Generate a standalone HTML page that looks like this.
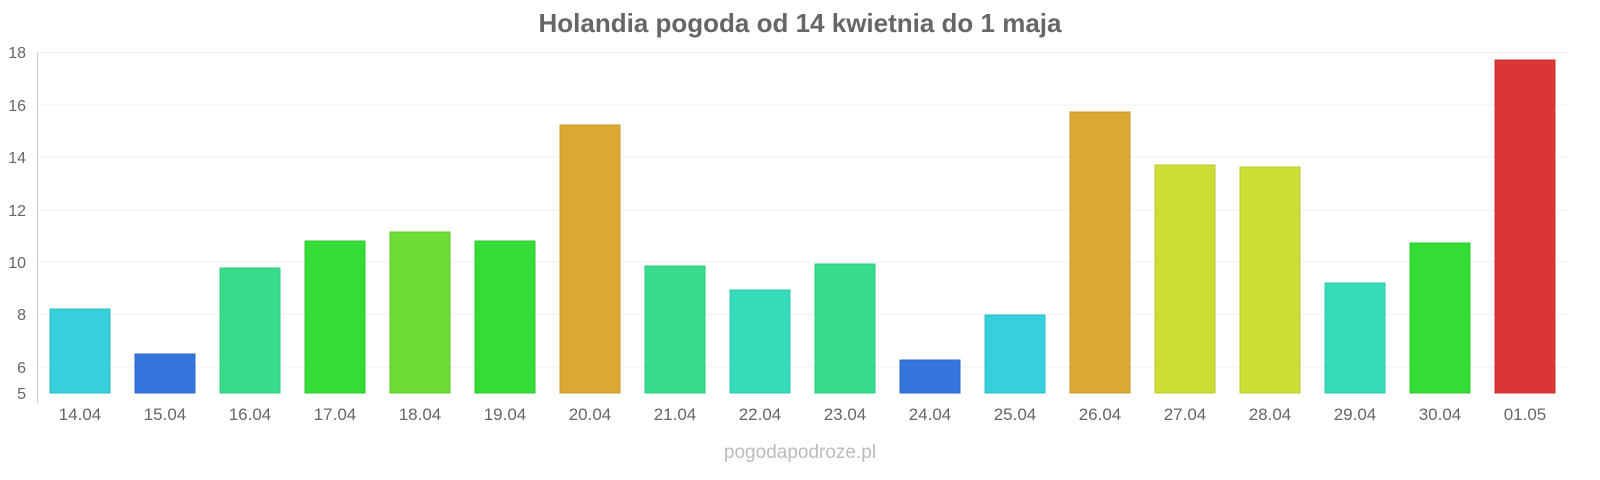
<!DOCTYPE html>
<html><head><meta charset="utf-8"><style>
body{margin:0;background:#fff;}
svg{display:block;font-family:"Liberation Sans",sans-serif;}
</style></head><body>
<svg width="1600" height="480" viewBox="0 0 1600 480">
<text x="800" y="32" text-anchor="middle" font-size="26" font-weight="bold" fill="#666">Holandia pogoda od 14 kwietnia do 1 maja</text>
<g stroke="#f0f0f0" stroke-width="1">
<line x1="38" x2="1568" y1="52.5" y2="52.5"/>
<line x1="38" x2="1568" y1="105" y2="105"/>
<line x1="38" x2="1568" y1="157" y2="157"/>
<line x1="38" x2="1568" y1="210" y2="210"/>
<line x1="38" x2="1568" y1="262" y2="262"/>
<line x1="38" x2="1568" y1="314" y2="314"/>
<line x1="38" x2="1568" y1="367" y2="367"/>
</g>
<line x1="37.5" x2="37.5" y1="52" y2="403" stroke="#ccc"/>
<g font-size="16" fill="#666" text-anchor="end">
<text x="26" y="58">18</text><text x="26" y="111">16</text><text x="26" y="163">14</text>
<text x="26" y="216">12</text><text x="26" y="268">10</text><text x="26" y="320">8</text>
<text x="26" y="373">6</text><text x="26" y="399">5</text>
</g>
<g stroke-width="1">
<rect x="50" y="309" width="60" height="84" fill="#36cfdc" stroke="#2fbcc8"/>
<rect x="135" y="354" width="60" height="39" fill="#3575dc" stroke="#2f68c8"/>
<rect x="220" y="268" width="60" height="125" fill="#36dc8c" stroke="#2fc87e"/>
<rect x="305" y="241" width="60" height="152" fill="#34dc36" stroke="#2ec830"/>
<rect x="390" y="232" width="60" height="161" fill="#6cdc36" stroke="#60c830"/>
<rect x="475" y="241" width="60" height="152" fill="#34dc36" stroke="#2ec830"/>
<rect x="560" y="125" width="60" height="268" fill="#dca834" stroke="#c8982e"/>
<rect x="645" y="266" width="60" height="127" fill="#36dc8c" stroke="#2fc87e"/>
<rect x="730" y="290" width="60" height="103" fill="#34dcb9" stroke="#2ec8a8"/>
<rect x="815" y="264" width="60" height="129" fill="#36dc8c" stroke="#2fc87e"/>
<rect x="900" y="360" width="60" height="33" fill="#3575dc" stroke="#2f68c8"/>
<rect x="985" y="315" width="60" height="78" fill="#36cfdc" stroke="#2fbcc8"/>
<rect x="1070" y="112" width="60" height="281" fill="#dca834" stroke="#c8982e"/>
<rect x="1155" y="165" width="60" height="228" fill="#cedd34" stroke="#bcc92e"/>
<rect x="1240" y="167" width="60" height="226" fill="#cedd34" stroke="#bcc92e"/>
<rect x="1325" y="283" width="60" height="110" fill="#34dcb9" stroke="#2ec8a8"/>
<rect x="1410" y="243" width="60" height="150" fill="#34dc36" stroke="#2ec830"/>
<rect x="1495" y="60" width="60" height="333" fill="#dc3535" stroke="#c82f2f"/>
</g>
<g font-size="17" fill="#666" text-anchor="middle">
<text x="80" y="420">14.04</text><text x="165" y="420">15.04</text><text x="250" y="420">16.04</text>
<text x="335" y="420">17.04</text><text x="420" y="420">18.04</text><text x="505" y="420">19.04</text>
<text x="590" y="420">20.04</text><text x="675" y="420">21.04</text><text x="760" y="420">22.04</text>
<text x="845" y="420">23.04</text><text x="930" y="420">24.04</text><text x="1015" y="420">25.04</text>
<text x="1100" y="420">26.04</text><text x="1185" y="420">27.04</text><text x="1270" y="420">28.04</text>
<text x="1355" y="420">29.04</text><text x="1440" y="420">30.04</text><text x="1525" y="420">01.05</text>
</g>
<text x="800" y="458" text-anchor="middle" font-size="19" fill="#bbb">pogodapodroze.pl</text>
</svg>
</body></html>
